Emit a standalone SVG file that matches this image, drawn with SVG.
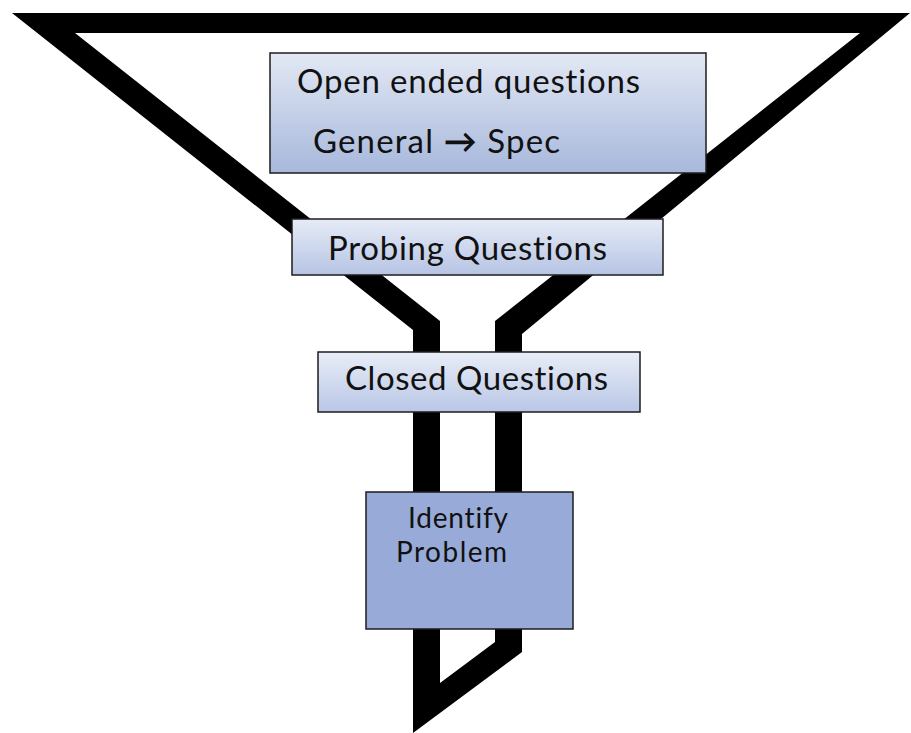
<svg xmlns="http://www.w3.org/2000/svg" width="911" height="733" viewBox="0 0 911 733">
  <style>
    .box { stroke: #1c1c1c; stroke-width: 1.5; }
    .lbl { font-family: Lato, "Open Sans", "Liberation Sans", sans-serif; fill: #111; font-variant-ligatures: none; font-feature-settings: "liga" 0, "clig" 0; }
    .big { font-size: 33px; }
    .small { font-size: 28px; }
    .arrow { font-weight: bold; }
  </style>
  <defs>
    <linearGradient id="gOpen" x1="0" y1="0" x2="0" y2="1">
      <stop offset="0" stop-color="#e2e8f4"/>
      <stop offset="1" stop-color="#a8b8dc"/>
    </linearGradient>
    <linearGradient id="gProbe" x1="0" y1="0" x2="0" y2="1">
      <stop offset="0" stop-color="#e6ebf6"/>
      <stop offset="1" stop-color="#b6c4e4"/>
    </linearGradient>
    <linearGradient id="gClosed" x1="0" y1="0" x2="0" y2="1">
      <stop offset="0" stop-color="#e8edf7"/>
      <stop offset="1" stop-color="#b9c7e6"/>
    </linearGradient>
  </defs>
  <rect width="911" height="733" fill="#ffffff"/>

  <g id="funnel">
    <path fill="#000" fill-rule="evenodd" d="M12,13 L910,13 L522,334 L522,652 L413,733 L413,330 Z M75,33 L860,33 L495,321 L495,642 L440,683 L440,321 Z"/>
  </g>

  <g id="open-ended">
    <rect class="box" x="270" y="53" width="436" height="120" fill="url(#gOpen)"/>
    <text class="lbl big" x="297" y="93" textLength="343" lengthAdjust="spacing">Open ended questions</text>
    <text class="lbl big" x="313" y="153" textLength="247" lengthAdjust="spacing">General <tspan class="arrow">→</tspan> Spec</text>
  </g>

  <g id="probing">
    <rect class="box" x="292" y="219" width="371" height="56" fill="url(#gProbe)"/>
    <text class="lbl big" x="328" y="260" textLength="279" lengthAdjust="spacing">Probing Questions</text>
  </g>

  <g id="closed">
    <rect class="box" x="318" y="352" width="322" height="60" fill="url(#gClosed)"/>
    <text class="lbl big" x="345" y="390" textLength="263" lengthAdjust="spacing">Closed Questions</text>
  </g>

  <g id="identify">
    <rect class="box" x="366" y="492" width="207" height="137" fill="#98aad8"/>
    <text class="lbl small" x="408" y="528" textLength="100" lengthAdjust="spacing">Identify</text>
    <text class="lbl small" x="396" y="562" textLength="111" lengthAdjust="spacing">Problem</text>
  </g>
</svg>
